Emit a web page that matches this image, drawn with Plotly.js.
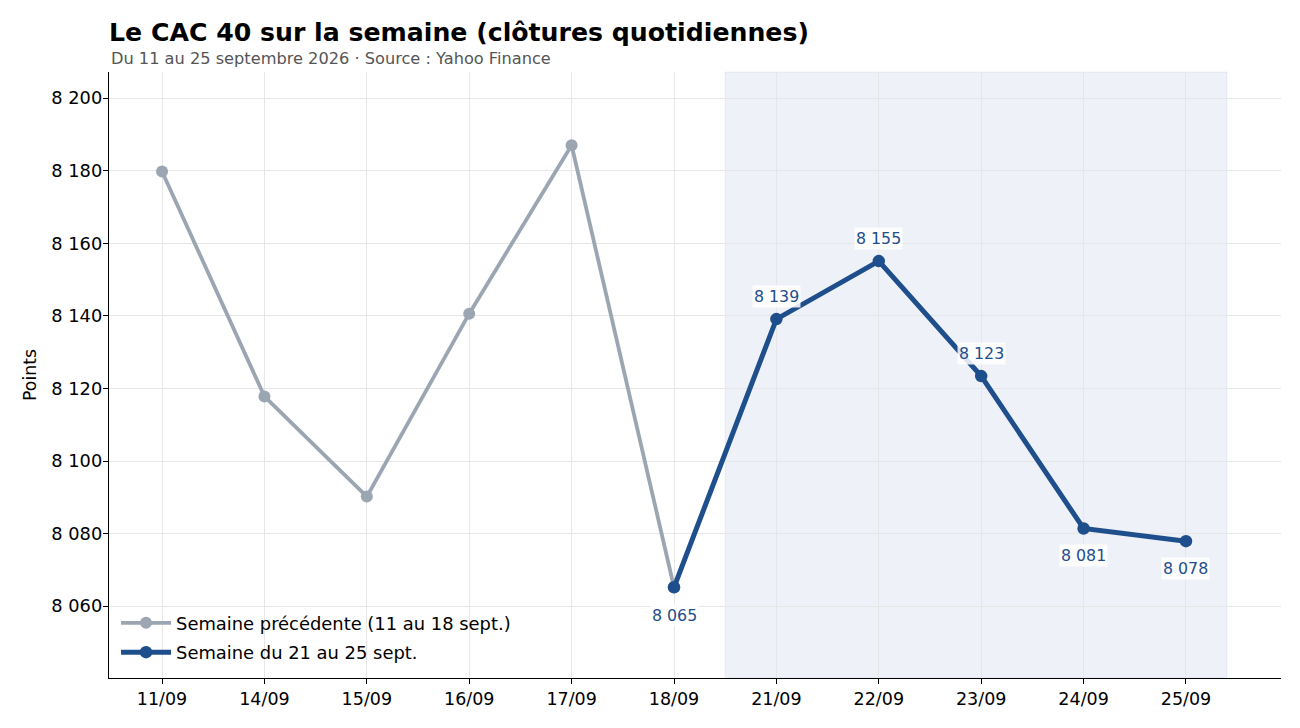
<!DOCTYPE html>
<html>
<head>
<meta charset="utf-8">
<script src="https://cdn.plot.ly/plotly-3.0.1.min.js"></script>
<style>html,body{margin:0;padding:0;background:#fff;}#chart{width:1300px;height:728px;}</style>
</head>
<body>
<div id="chart"></div>
<script>
// ---- Data ----
const allDates = ['11/09','14/09','15/09','16/09','17/09','18/09','21/09','22/09','23/09','24/09','25/09'];
const prevDates = ['11/09','14/09','15/09','16/09','17/09','18/09'];
const prevValues = [8179.8, 8117.8, 8090.2, 8140.6, 8187.0, 8065.2];
const curDates = ['18/09','21/09','22/09','23/09','24/09','25/09'];
const curValues = [8065.2, 8139.1, 8155.1, 8123.4, 8081.4, 8077.9];
const prevName = 'Semaine précédente (11 au 18 sept.)';
const curName = 'Semaine du 21 au 25 sept.';
const titleText = 'Le CAC 40 sur la semaine (clôtures quotidiennes)';
const subtitleText = 'Du 11 au 25 septembre 2026 · Source : Yahoo Finance';
const yTitle = 'Points';

const GRAY = '#9ca6b3';
const BLUE = '#1f4e8c';
const FONT = 'DejaVu Sans, sans-serif';

function fmt(v){ return String(Math.round(v)).replace(/\B(?=(\d{3})+(?!\d))/g, ' '); }

const traces = [
  {x: prevDates, y: prevValues, name: prevName, type: 'scatter', mode: 'lines+markers',
   legendgroup: 'prev',
   line: {color: GRAY, width: 3.8}, marker: {color: GRAY, size: 12}, hoverinfo: 'skip'},
  {x: curDates, y: curValues, name: curName, type: 'scatter', mode: 'lines+markers',
   legendgroup: 'cur',
   line: {color: BLUE, width: 5}, marker: {color: BLUE, size: 12.5}, hoverinfo: 'skip'}
];

// label offsets (pixels): below for low points, above for others
const labelShift = [-28, 23, 23, 23, -27, -27];
const annotations = curDates.map((d, i) => ({
  x: d, y: curValues[i], xref: 'x', yref: 'y', text: fmt(curValues[i]),
  showarrow: false, yshift: labelShift[i],
  font: {family: FONT, size: 15.8, color: BLUE},
  bgcolor: 'rgba(255,255,255,0.85)', borderpad: 1
}));
annotations.push({
  x: 0, y: 1 + (72 - 58) / 606, xref: 'paper', yref: 'paper', xanchor: 'left', yanchor: 'middle',
  text: subtitleText, showarrow: false, font: {family: FONT, size: 16.2, color: '#555555'}
});

const layout = {
  width: 1300, height: 728,
  margin: {l: 109, r: 19, t: 72, b: 50},
  paper_bgcolor: '#ffffff', plot_bgcolor: '#ffffff',
  font: {family: FONT, size: 17.5, color: '#000000'},
  separators: ', ',
  title: {text: '<b>' + titleText + '</b>', x: 0, xref: 'paper', xanchor: 'left',
          y: 1 - 32 / 728, yref: 'container', yanchor: 'middle',
          font: {family: FONT, size: 25.2, color: '#000000'}},
  xaxis: {
    type: 'category', categoryorder: 'array', categoryarray: allDates,
    range: [-0.518, 10.928],
    showgrid: true, gridcolor: '#e6e6e6', gridwidth: 1,
    showline: true, linecolor: '#000000', linewidth: 1.2,
    ticks: 'outside', ticklen: 5, tickcolor: '#000000',
    tickfont: {family: FONT, size: 17.5, color: '#000000'},
    zeroline: false, fixedrange: true
  },
  yaxis: {
    range: [8040.2, 8207.2],
    tickvals: [8060, 8080, 8100, 8120, 8140, 8160, 8180, 8200],
    tickformat: ',d',
    showgrid: true, gridcolor: '#e6e6e6', gridwidth: 1,
    showline: true, linecolor: '#000000', linewidth: 1.2,
    ticks: 'outside', ticklen: 5, tickcolor: '#000000', ticklabelstandoff: -3,
    tickfont: {family: FONT, size: 17.8, color: '#000000'},
    title: {text: yTitle, font: {family: FONT, size: 17.3, color: '#000000'}, standoff: 10},
    zeroline: false, fixedrange: true
  },
  shapes: [{
    type: 'rect', xref: 'x', yref: 'paper', x0: 5.5, x1: 10.4, y0: 0, y1: 1,
    fillcolor: '#eef1f7', line: {color: 'rgba(31,78,140,0.07)', width: 1}, layer: 'below'
  }],
  annotations: annotations,
  legend: {
    x: 0.006, y: 0.012, xanchor: 'left', yanchor: 'bottom',
    bgcolor: 'rgba(255,255,255,0)', borderwidth: 0,
    font: {family: FONT, size: 17.9, color: '#000000'},
    traceorder: 'grouped', tracegroupgap: 3, itemwidth: 50
  },
  showlegend: true,
  hovermode: false
};

Plotly.newPlot('chart', traces, layout, {displayModeBar: false, staticPlot: true});
</script>
</body>
</html>
